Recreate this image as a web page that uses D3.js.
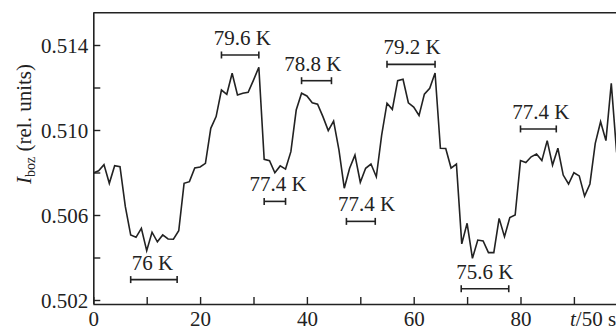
<!DOCTYPE html>
<html>
<head>
<meta charset="utf-8">
<script src="https://cdn.jsdelivr.net/npm/d3@7"></script>
<style>
  html, body { margin: 0; padding: 0; background: #fff; }
  svg { display: block; }
</style>
</head>
<body>
<svg id="chart" width="616" height="329"></svg>
<script>
// ---- data ----
const timeSteps = d3.range(0, 99); // t / 50 s
const signal = [
  0.50798, 0.50808, 0.50837, 0.50749, 0.50832, 0.50827, 0.50639, 0.50506, 0.50495, 0.50537,
  0.50432, 0.50519, 0.50474, 0.50506, 0.50487, 0.50486, 0.50526, 0.50749, 0.50757, 0.50821,
  0.50826, 0.50843, 0.51008, 0.51063, 0.51188, 0.51168, 0.51267, 0.51165, 0.51173, 0.51177,
  0.51235, 0.51295, 0.50862, 0.50856, 0.50799, 0.50831, 0.50816, 0.50898, 0.51094, 0.51173,
  0.51160, 0.51128, 0.51121, 0.51063, 0.50997, 0.51042, 0.50906, 0.50726, 0.50820, 0.50882,
  0.50754, 0.50820, 0.50840, 0.50780, 0.50976, 0.51126, 0.51097, 0.51232, 0.51239, 0.51128,
  0.51108, 0.51068, 0.51169, 0.51196, 0.51268, 0.50914, 0.50913, 0.50821, 0.50840, 0.50464,
  0.50561, 0.50396, 0.50482, 0.50478, 0.50423, 0.50423, 0.50584, 0.50498, 0.50588, 0.50600,
  0.50856, 0.50847, 0.50874, 0.50887, 0.50856, 0.50950, 0.50835, 0.50914, 0.50788, 0.50746,
  0.50799, 0.50784, 0.50689, 0.50746, 0.50937, 0.51039, 0.50950, 0.51220, 0.50894
];
// temperature interval annotations
const annLabels = ["79.6 K", "78.8 K", "79.2 K", "77.4 K", "77.4 K", "77.4 K", "76 K", "75.6 K"];
const annStart  = [24, 39, 55, 80, 32, 47.4, 7, 68.9];
const annEnd    = [31, 44.6, 64, 86.7, 36, 52.8, 15.7, 77.8];
const annLevel  = [0.51353, 0.51232, 0.51309, 0.51005, 0.50664, 0.50570, 0.50296, 0.50253];
const annLabelT = [27.9, 41.1, 59.7, 83.8, 34.6, 51.2, 11.1, 73.3];

const xTicks = [0, 10, 20, 30, 40, 50, 60, 70, 80, 90];
const xTickLabels = ["0", "20", "40", "60", "80"];
const yTicks = [0.502, 0.504, 0.506, 0.508, 0.510, 0.512, 0.514];
const yTickLabels = ["0.502", "0.506", "0.510", "0.514"];

// ---- layout ----
const svg = d3.select("#chart");
const W = 616;
const plotLeft = 93.3, plotTop = 12.7, plotBottom = 304;
const x = d3.scaleLinear().domain([0, 100]).range([plotLeft, 627.3]);
const y = d3.scaleLinear().domain([0.502, 0.514]).range([300, 45]);
const ink = "#222";
const fs = 21;
const serif = "'Liberation Serif', 'Times New Roman', serif";

// frame: top line and left/bottom axes
svg.append("line").attr("x1", plotLeft).attr("x2", W + 5).attr("y1", plotTop).attr("y2", plotTop)
  .attr("stroke", ink).attr("stroke-width", 1.6);

const xAxis = d3.axisBottom(x).tickValues(xTicks).tickSizeInner(-7).tickSizeOuter(0)
  .tickFormat(d => xTickLabels.includes(String(d)) ? String(d) : "").tickPadding(12);
const gx = svg.append("g").attr("transform", `translate(0,${plotBottom})`).call(xAxis);
gx.select(".domain").attr("d", `M${plotLeft},0.5H${W + 5}`).attr("stroke", ink).attr("stroke-width", 1.6);
gx.selectAll(".tick line").attr("stroke", ink).attr("stroke-width", 1.4);
gx.selectAll(".tick text").style("font-family", serif).style("font-size", fs + "px").attr("fill", ink)
  .attr("dy", null).attr("y", 21.5);

const yAxis = d3.axisLeft(y).tickValues(yTicks).tickSizeInner(-7).tickSizeOuter(0)
  .tickFormat(d => { const s = d3.format(".3f")(d); return yTickLabels.includes(s) ? s : ""; })
  .tickPadding(12);
const gy = svg.append("g").attr("transform", `translate(${plotLeft},0)`).call(yAxis);
gy.select(".domain").attr("d", `M0.5,${plotTop}V${plotBottom}`).attr("stroke", ink).attr("stroke-width", 1.6);
gy.selectAll(".tick line").attr("stroke", ink).attr("stroke-width", 1.4);
gy.selectAll(".tick text").style("font-family", serif).style("font-size", fs + "px").attr("fill", ink)
  .attr("x", -5).attr("dy", "0.35em");

// signal line
const line = d3.line().x((d, i) => x(timeSteps[i])).y(d => y(d));
svg.append("path").datum(signal).attr("d", line)
  .attr("fill", "none").attr("stroke", ink).attr("stroke-width", 1.6).attr("stroke-linejoin", "miter");

// annotations
annLabels.forEach((lab, i) => {
  const g = svg.append("g");
  const x1 = x(annStart[i]), x2 = x(annEnd[i]), yy = y(annLevel[i]);
  g.append("line").attr("x1", x1).attr("x2", x2).attr("y1", yy).attr("y2", yy)
    .attr("stroke", ink).attr("stroke-width", 1.6);
  [x1, x2].forEach(xx => g.append("line").attr("x1", xx).attr("x2", xx)
    .attr("y1", yy - 3.5).attr("y2", yy + 3.5).attr("stroke", ink).attr("stroke-width", 1.6));
  g.append("text").attr("x", x(annLabelT[i])).attr("y", yy - 10)
    .attr("text-anchor", "middle").style("font-family", serif).style("font-size", fs + "px")
    .attr("fill", ink).text(lab);
});

// axis titles
const yt = svg.append("text").attr("transform", "translate(31,124) rotate(-90)")
  .attr("text-anchor", "middle").style("font-family", serif).style("font-size", fs + "px").attr("fill", ink);
yt.append("tspan").attr("font-style", "italic").text("I");
yt.append("tspan").style("font-size", "14px").attr("dy", 4).text("boz");
yt.append("tspan").attr("dy", -4).text(" (rel. units)");

const xt = svg.append("text").attr("x", 570).attr("y", 325.5)
  .style("font-family", serif).style("font-size", fs + "px").attr("fill", ink);
xt.append("tspan").attr("font-style", "italic").text("t");
xt.append("tspan").text("/50 s");
</script>
</body>
</html>
